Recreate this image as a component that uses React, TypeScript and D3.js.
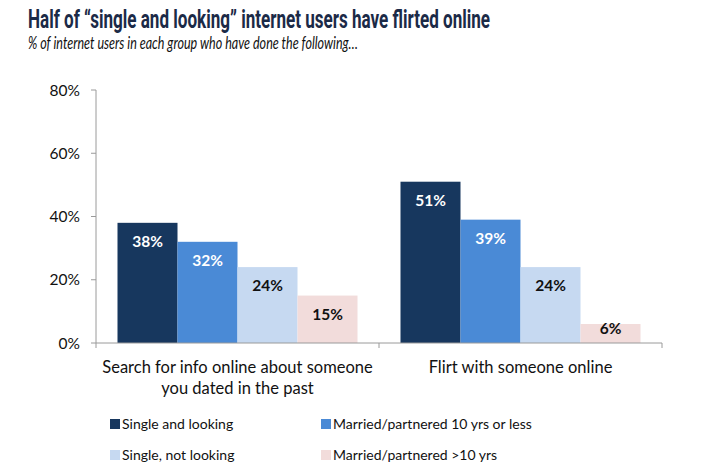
import React from "react";
import * as d3 from "d3";

const categories = ["Search for info online about someone|you dated in the past", "Flirt with someone online"];
const seriesNames = ["Single and looking", "Married/partnered 10 yrs or less", "Single, not looking", "Married/partnered >10 yrs"];
const singleLooking = [38, 51];
const marriedLess10 = [32, 39];
const singleNotLooking = [24, 24];
const marriedMore10 = [15, 6];
const yTicks = [0, 20, 40, 60, 80];

const colors = ["#17375e", "#4a8ad6", "#c6d9f1", "#f2dcdb"];
const labelColors = ["#ffffff", "#ffffff", "#111111", "#111111"];
const FONT = "Lato, 'Open Sans', sans-serif";

export default function App() {
  const W = 710, H = 472;
  const x0 = 96, x1 = 662, yTop = 90, yBot = 343;
  const series = [singleLooking, marriedLess10, singleNotLooking, marriedMore10];
  const y = d3.scaleLinear().domain([0, 80]).range([yBot, yTop]);
  const xb = d3.scaleBand().domain(categories).range([x0, x1]).paddingInner(0).paddingOuter(0);
  const bw = 60;
  const inner = d3.scaleBand().domain(seriesNames).range([0, bw * 4]);

  return (
    <svg width={W} height={H} style={{ position: "absolute", left: 0, top: 0, background: "#fff" }}>
      <text x={28} y={28} fontFamily="Roboto, sans-serif" fontWeight={700} fontSize={25} fill="#1b2a47" textLength={462} lengthAdjust="spacingAndGlyphs">
        Half of “single and looking” internet users have flirted online
      </text>
      <text x={28} y={49} fontFamily={FONT} fontStyle="italic" fontSize={17} fill="#111" textLength={330} lengthAdjust="spacingAndGlyphs">
        % of internet users in each group who have done the following…
      </text>
      {yTicks.map((t) => (
        <g key={t}>
          <line x1={x0 - 5} x2={x0} y1={y(t)} y2={y(t)} stroke="#9a9a9a" />
          <text x={80} y={y(t) + 5.5} textAnchor="end" fontFamily={FONT} fontSize={15.5} fill="#111">{t}%</text>
        </g>
      ))}
      <line x1={x0} x2={x0} y1={yTop} y2={yBot} stroke="#9a9a9a" />
      {categories.map((c, ci) => {
        const start = (xb(c) as number) + (xb.bandwidth() - bw * 4) / 2;
        const cx = (xb(c) as number) + xb.bandwidth() / 2;
        const lines = c.split("|");
        return (
          <g key={c}>
            {series.map((s, si) => {
              const bx = start + (inner(seriesNames[si]) as number);
              const v = s[ci];
              const ly = Math.min(y(v) + 24, yBot - 9);
              return (
                <g key={si}>
                  <rect x={bx} y={y(v)} width={bw} height={yBot - y(v)} fill={colors[si]} />
                  <text x={bx + bw / 2} y={ly} textAnchor="middle" fontFamily={FONT} fontWeight={700} fontSize={15.5} fill={labelColors[si]}>{v}%</text>
                </g>
              );
            })}
            {lines.map((l, li) => (
              <text key={li} x={cx} y={373 + li * 21} textAnchor="middle" fontFamily={FONT} fontSize={16.5} fill="#111">{l}</text>
            ))}
          </g>
        );
      })}
      <line x1={x0} x2={x1} y1={yBot} y2={yBot} stroke="#9a9a9a" />
      {[xb.range()[0], ...categories.map((c) => (xb(c) as number) + xb.bandwidth())].map((tx, i) => (
        <line key={i} x1={tx} x2={tx} y1={yBot} y2={yBot + 5} stroke="#9a9a9a" />
      ))}
      {seriesNames.map((n, i) => {
        const lx = i % 2 === 0 ? 110 : 321;
        const ly = i < 2 ? 424 : 455;
        return (
          <g key={n}>
            <rect x={lx} y={ly - 5} width={10} height={10} fill={colors[i]} />
            <text x={lx + 12} y={ly + 5} fontFamily={FONT} fontSize={14} fill="#111">{n}</text>
          </g>
        );
      })}
    </svg>
  );
}
